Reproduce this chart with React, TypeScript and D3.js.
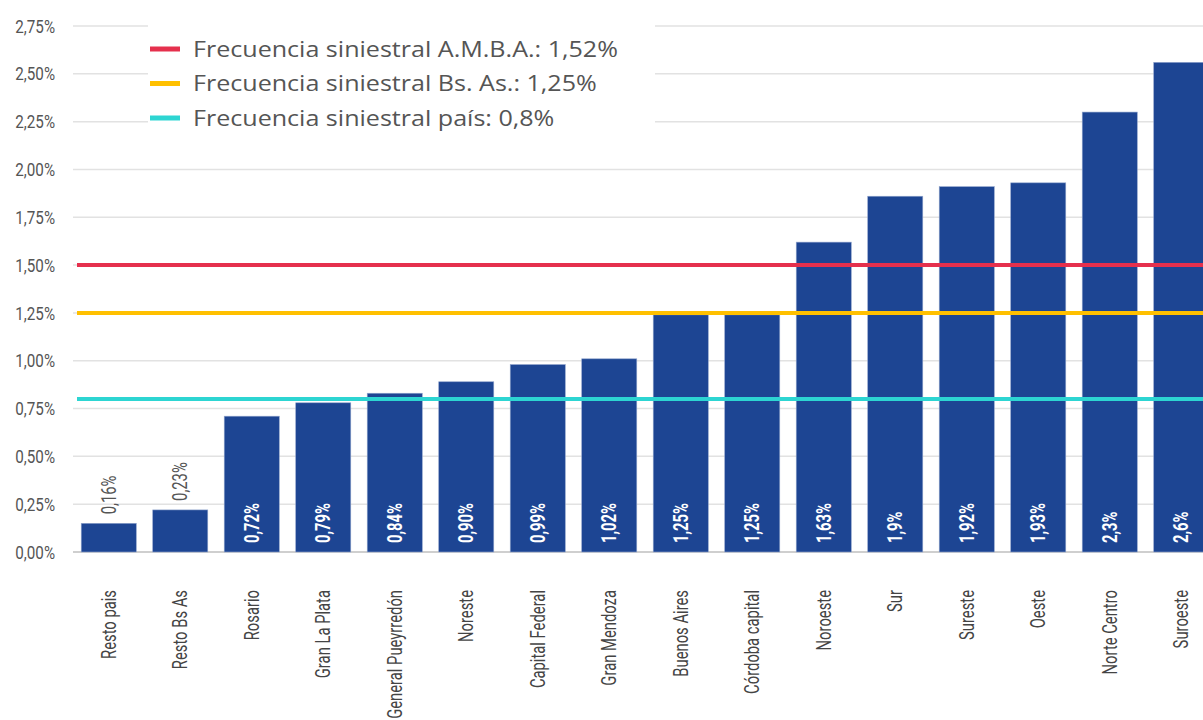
import * as d3 from 'd3';
import { useEffect, useRef } from 'react';

const categories = [
  'Resto pais', 'Resto Bs As', 'Rosario', 'Gran La Plata', 'General Pueyrredón', 'Noreste',
  'Capital Federal', 'Gran Mendoza', 'Buenos Aires', 'Córdoba capital', 'Noroeste', 'Sur',
  'Sureste', 'Oeste', 'Norte Centro', 'Suroeste',
];
const values = [0.15, 0.22, 0.71, 0.78, 0.83, 0.89, 0.98, 1.01, 1.24, 1.24, 1.62, 1.86, 1.91, 1.93, 2.3, 2.56];
const valueLabels = [
  '0,16%', '0,23%', '0,72%', '0,79%', '0,84%', '0,90%', '0,99%', '1,02%',
  '1,25%', '1,25%', '1,63%', '1,9%', '1,92%', '1,93%', '2,3%', '2,6%',
];
const yTicks = [0, 0.25, 0.5, 0.75, 1, 1.25, 1.5, 1.75, 2, 2.25, 2.5, 2.75];
const refNames = [
  'Frecuencia siniestral A.M.B.A.: 1,52%',
  'Frecuencia siniestral Bs. As.: 1,25%',
  'Frecuencia siniestral país: 0,8%',
];
const refValues = [1.5, 1.25, 0.8];
const refColors = ['#e5304d', '#ffc000', '#2dd5d2'];

// narrow look: regular font squeezed along the text direction
const narrow = "Roboto, 'Noto Sans', sans-serif";
const squeeze = 0.74;

const App = () => {
  const svgRef = useRef<SVGSVGElement | null>(null);

  useEffect(() => {
    if (!svgRef.current) return;
    const svg = d3.select(svgRef.current);
    svg.selectAll('*').remove();

    const left = 73;
    const x = d3.scaleBand<string>()
      .domain(categories)
      .range([left, 1217])
      .paddingInner(0.23)
      .paddingOuter(0.115);
    const y = d3.scaleLinear().domain([0, 2.75]).range([552, 26]);

    // gridlines
    svg.append('g')
      .selectAll('line')
      .data(yTicks)
      .join('line')
      .attr('x1', left)
      .attr('x2', 1203)
      .attr('y1', d => y(d))
      .attr('y2', d => y(d))
      .attr('stroke', d => (d === 0 ? '#cfcfcf' : '#e2e2e2'))
      .attr('stroke-width', d => (d === 0 ? 2 : 1.5));

    // y tick labels
    svg.append('g')
      .selectAll('text')
      .data(yTicks)
      .join('text')
      .attr('transform', d => `translate(55,${y(d)}) scale(0.8,1)`)
      .attr('dy', '0.35em')
      .attr('text-anchor', 'end')
      .style('font-family', narrow)
      .style('font-size', '19px')
      .style('fill', '#555')
      .text(d => d3.format('.2f')(d).replace('.', ',') + '%');

    // bars
    svg.append('g')
      .selectAll('rect')
      .data(values)
      .join('rect')
      .attr('x', (_, i) => x(categories[i]) || 0)
      .attr('width', x.bandwidth())
      .attr('y', d => y(d))
      .attr('height', d => y(0) - y(d))
      .attr('fill', '#1d4593')
      .attr('stroke', '#8fa3cc')
      .attr('stroke-width', 0.6);

    // value labels
    svg.append('g')
      .selectAll('text')
      .data(values)
      .join('text')
      .attr('transform', (d, i) => {
        const cx = (x(categories[i]) || 0) + x.bandwidth() / 2;
        const yy = d < 0.5 ? y(d) - 9 : y(0) - 9;
        return `translate(${cx},${yy}) rotate(-90) scale(${squeeze},1)`;
      })
      .attr('dy', '0.36em')
      .attr('text-anchor', 'start')
      .style('font-family', narrow)
      .style('font-size', '20px')
      .style('font-weight', d => (d < 0.5 ? 'normal' : 'bold'))
      .style('fill', d => (d < 0.5 ? '#555' : '#fff'))
      .text((_, i) => valueLabels[i]);

    // category labels
    svg.append('g')
      .selectAll('text')
      .data(categories)
      .join('text')
      .attr('transform', d => `translate(${(x(d) || 0) + x.bandwidth() / 2},590) rotate(-90) scale(${squeeze},1)`)
      .attr('dy', '0.36em')
      .attr('text-anchor', 'end')
      .style('font-family', narrow)
      .style('font-size', '20px')
      .style('fill', '#444')
      .text(d => d);

    // reference lines
    svg.append('g')
      .selectAll('line')
      .data(refValues)
      .join('line')
      .attr('x1', 77)
      .attr('x2', 1203)
      .attr('y1', d => y(d))
      .attr('y2', d => y(d))
      .attr('stroke', (_, i) => refColors[i])
      .attr('stroke-width', 4);

    // legend
    const legend = svg.append('g');
    legend.append('rect')
      .attr('x', 148)
      .attr('y', 18)
      .attr('width', 507)
      .attr('height', 122)
      .attr('fill', '#fff');
    const item = legend.selectAll('g.item')
      .data(refNames)
      .join('g')
      .attr('class', 'item')
      .attr('transform', (_, i) => `translate(150,${49 + i * 34.5})`);
    item.append('line')
      .attr('x1', 0)
      .attr('x2', 30)
      .attr('stroke', (_, i) => refColors[i])
      .attr('stroke-width', 5);
    item.append('text')
      .attr('transform', 'translate(43,0) scale(1.14,1)')
      .attr('dy', '0.35em')
      .style('font-family', "'Open Sans', sans-serif")
      .style('font-size', '22px')
      .style('fill', '#555')
      .text(d => d);
  }, []);

  return (
    <svg
      ref={svgRef}
      width={1203}
      height={720}
      style={{ position: 'absolute', left: 0, top: 0, background: '#fff' }}
    />
  );
};

export default App;
